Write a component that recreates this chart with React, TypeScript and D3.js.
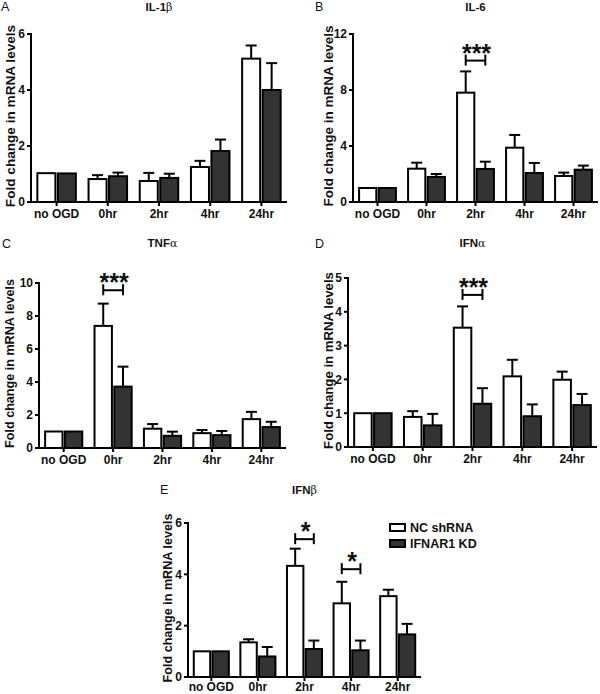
import React from "react";
import * as d3 from "d3";

const categories = ["no OGD", "0hr", "2hr", "4hr", "24hr"];
const seriesNames = ["NC shRNA", "IFNAR1 KD"];

// Panel A: IL-1β
const il1bNC = [1.03, 0.82, 0.75, 1.25, 5.12];
const il1bNCErr = [0, 0.14, 0.29, 0.22, 0.47];
const il1bKD = [1.02, 0.92, 0.86, 1.82, 4.0];
const il1bKDErr = [0, 0.13, 0.15, 0.41, 0.96];
const il1bTicks = [0, 2, 4, 6];

// Panel B: IL-6
const il6NC = [1.0, 2.38, 7.81, 3.88, 1.86];
const il6NCErr = [0, 0.43, 1.52, 0.91, 0.24];
const il6KD = [1.0, 1.79, 2.36, 2.07, 2.31];
const il6KDErr = [0, 0.21, 0.52, 0.72, 0.29];
const il6Ticks = [0, 4, 8, 12];

// Panel C: TNFα
const tnfNC = [1.0, 7.4, 1.17, 0.9, 1.75];
const tnfNCErr = [0, 1.35, 0.28, 0.19, 0.44];
const tnfKD = [1.0, 3.72, 0.74, 0.78, 1.27];
const tnfKDErr = [0, 1.21, 0.25, 0.25, 0.32];
const tnfTicks = [0, 2, 4, 6, 8, 10];

// Panel D: IFNα
const ifnaNC = [1.0, 0.89, 3.53, 2.09, 1.99];
const ifnaNCErr = [0, 0.17, 0.63, 0.49, 0.24];
const ifnaKD = [1.0, 0.64, 1.28, 0.91, 1.24];
const ifnaKDErr = [0, 0.34, 0.46, 0.35, 0.33];
const ifnaTicks = [0, 1, 2, 3, 4, 5];

// Panel E: IFNβ
const ifnbNC = [1.0, 1.35, 4.33, 2.87, 3.15];
const ifnbNCErr = [0, 0.12, 0.67, 0.84, 0.25];
const ifnbKD = [1.0, 0.8, 1.09, 1.04, 1.66];
const ifnbKDErr = [0, 0.37, 0.33, 0.38, 0.41];
const ifnbTicks = [0, 2, 4, 6];

const FONT = "'Liberation Sans', Arial, Helvetica, sans-serif";
const DARK = "#333333";

type Sig = { cat: string; y: number; label: string };
type PanelCfg = {
  letter: string;
  letterX: number;
  letterY: number;
  title: string;
  greek: string;
  titleY: number;
  x0: number;
  x1: number;
  y0: number;
  y1: number;
  ymax: number;
  ticks: number[];
  nc: number[];
  ncErr: number[];
  kd: number[];
  kdErr: number[];
  sig: Sig[];
  labelDx: number;
  labelSize: number;
  xLabelDy: number;
};

function Panel({ c }: { c: PanelCfg }) {
  const x = d3.scaleBand<string>().domain(categories).range([c.x0, c.x1]).padding(0);
  const bw = x.bandwidth();
  const sub = d3
    .scaleBand<string>()
    .domain(seriesNames)
    .range([-bw * 0.376, bw * 0.376])
    .paddingInner(0.12);
  const y = d3.scaleLinear().domain([0, c.ymax]).range([c.y0, c.y1]);
  const cx = (cat: string) => (x(cat) as number) + bw / 2;
  const series = [
    { name: seriesNames[0], vals: c.nc, errs: c.ncErr, fill: "#ffffff" },
    { name: seriesNames[1], vals: c.kd, errs: c.kdErr, fill: DARK },
  ];
  const sbw = sub.bandwidth();
  const titleCx = (c.x0 + c.x1) / 2;
  const labelCy = (c.y0 + c.y1) / 2 - 2;
  return (
    <g>
      <text x={c.letterX} y={c.letterY} fontFamily={FONT} fontSize={12.5} fill="#111">
        {c.letter}
      </text>
      <text x={titleCx} y={c.titleY} textAnchor="middle" fontFamily={FONT} fontSize={11.5} fontWeight="bold" fill="#111">
        {c.title}
        <tspan fontWeight="normal" fontFamily="'DejaVu Serif', serif" fontSize={11}>{c.greek}</tspan>
      </text>
      {/* bars */}
      {series.map((s) =>
        categories.map((cat, i) => {
          const bx = cx(cat) + (sub(s.name) as number);
          const top = y(s.vals[i]);
          const mid = bx + sbw / 2;
          const etop = y(s.vals[i] + s.errs[i]);
          return (
            <g key={s.name + cat}>
              {s.errs[i] > 0.01 && (
                <g stroke="#000" strokeWidth={2}>
                  <line x1={mid} x2={mid} y1={top} y2={etop} />
                  <line x1={mid - 5.5} x2={mid + 5.5} y1={etop} y2={etop} />
                </g>
              )}
              <rect x={bx} y={top} width={sbw} height={c.y0 - top} fill={s.fill} stroke="#000" strokeWidth={2} />
            </g>
          );
        })
      )}
      {/* axes */}
      <line x1={c.x0} x2={c.x0} y1={c.y0 + 1} y2={c.y1 - 1} stroke="#000" strokeWidth={2} />
      <line x1={c.x0 - 1} x2={c.x1} y1={c.y0} y2={c.y0} stroke="#000" strokeWidth={2} />
      {c.ticks.map((t) => (
        <g key={"yt" + t}>
          <line x1={c.x0 - 4} x2={c.x0} y1={y(t)} y2={y(t)} stroke="#000" strokeWidth={2} />
          <text x={c.x0 - 6} y={y(t)} dy="0.36em" textAnchor="end" fontFamily={FONT} fontSize={12} fontWeight="bold" fill="#111">
            {t}
          </text>
        </g>
      ))}
      {categories.map((cat) => (
        <g key={"xt" + cat}>
          <line x1={cx(cat)} x2={cx(cat)} y1={c.y0} y2={c.y0 + 4} stroke="#000" strokeWidth={2} />
          <text x={cx(cat)} y={c.y0 + c.xLabelDy} textAnchor="middle" fontFamily={FONT} fontSize={12} fontWeight="bold" fill="#111">
            {cat}
          </text>
        </g>
      ))}
      <text
        transform={`translate(${c.x0 + c.labelDx},${labelCy}) rotate(-90)`}
        textAnchor="middle"
        dy="0.36em"
        fontFamily={FONT}
        fontSize={c.labelSize}
        fontWeight="bold"
        fill="#111"
      >
        Fold change in mRNA levels
      </text>
      {/* significance */}
      {c.sig.map((s) => {
        const xa = cx(s.cat) + (sub(seriesNames[0]) as number) + sbw / 2;
        const xb = cx(s.cat) + (sub(seriesNames[1]) as number) + sbw / 2;
        const yy = y(s.y);
        return (
          <g key={"sig" + s.cat}>
            <g stroke="#000" strokeWidth={2}>
              <line x1={xa} x2={xb} y1={yy} y2={yy} />
              <line x1={xa} x2={xa} y1={yy - 6} y2={yy + 5} />
              <line x1={xb} x2={xb} y1={yy - 6} y2={yy + 5} />
            </g>
            <text x={(xa + xb) / 2 + 1} y={yy + 1} textAnchor="middle" fontFamily={FONT} fontSize={25} fontWeight="bold" fill="#111">
              {s.label}
            </text>
          </g>
        );
      })}
    </g>
  );
}

const panels: PanelCfg[] = [
  {
    letter: "A", letterX: 1, letterY: 11, title: "IL-1", greek: "β", titleY: 10.5,
    x0: 31, x1: 287, y0: 202, y1: 34, ymax: 6, ticks: il1bTicks,
    nc: il1bNC, ncErr: il1bNCErr, kd: il1bKD, kdErr: il1bKDErr, sig: [], labelDx: -21, labelSize: 13.6, xLabelDy: 16,
  },
  {
    letter: "B", letterX: 315, letterY: 11, title: "IL-6", greek: "", titleY: 10.5,
    x0: 353, x1: 598, y0: 202, y1: 34, ymax: 12, ticks: il6Ticks,
    nc: il6NC, ncErr: il6NCErr, kd: il6KD, kdErr: il6KDErr,
    sig: [{ cat: "2hr", y: 10.1, label: "***" }], labelDx: -25, labelSize: 13.5, xLabelDy: 16,
  },
  {
    letter: "C", letterX: 2, letterY: 248, title: "TNF", greek: "α", titleY: 247,
    x0: 39, x1: 286, y0: 448, y1: 283, ymax: 10, ticks: tnfTicks,
    nc: tnfNC, ncErr: tnfNCErr, kd: tnfKD, kdErr: tnfKDErr,
    sig: [{ cat: "0hr", y: 9.56, label: "***" }], labelDx: -30, labelSize: 12.6, xLabelDy: 16,
  },
  {
    letter: "D", letterX: 315, letterY: 248, title: "IFN", greek: "α", titleY: 247,
    x0: 348, x1: 597, y0: 447, y1: 278, ymax: 5, ticks: ifnaTicks,
    nc: ifnaNC, ncErr: ifnaNCErr, kd: ifnaKD, kdErr: ifnaKDErr,
    sig: [{ cat: "2hr", y: 4.5, label: "***" }], labelDx: -20, labelSize: 13.2, xLabelDy: 16,
  },
  {
    letter: "E", letterX: 160, letterY: 494, title: "IFN", greek: "β", titleY: 494,
    x0: 188, x1: 421, y0: 677, y1: 523, ymax: 6, ticks: ifnbTicks,
    nc: ifnbNC, ncErr: ifnbNCErr, kd: ifnbKD, kdErr: ifnbKDErr,
    sig: [
      { cat: "2hr", y: 5.37, label: "*" },
      { cat: "4hr", y: 4.2, label: "*" },
    ], labelDx: -21, labelSize: 12.6, xLabelDy: 13.5,
  },
];

export default function App() {
  return (
    <svg width={600} height={694} style={{ position: "absolute", left: 0, top: 0, background: "#fff" }}>
      <rect width={600} height={694} fill="#fff" />
      {panels.map((p) => (
        <Panel key={p.letter} c={p} />
      ))}
      {/* legend */}
      <g>
        <rect x={390} y={524} width={15} height={7} fill="#fff" stroke="#000" strokeWidth={2} />
        <rect x={390} y={540} width={15} height={7} fill={DARK} stroke="#000" strokeWidth={2} />
        <text x={410} y={531.5} fontFamily={FONT} fontSize={12.5} fontWeight="bold" fill="#111">{seriesNames[0]}</text>
        <text x={410} y={547.5} fontFamily={FONT} fontSize={12.5} fontWeight="bold" fill="#111">{seriesNames[1]}</text>
      </g>
    </svg>
  );
}
